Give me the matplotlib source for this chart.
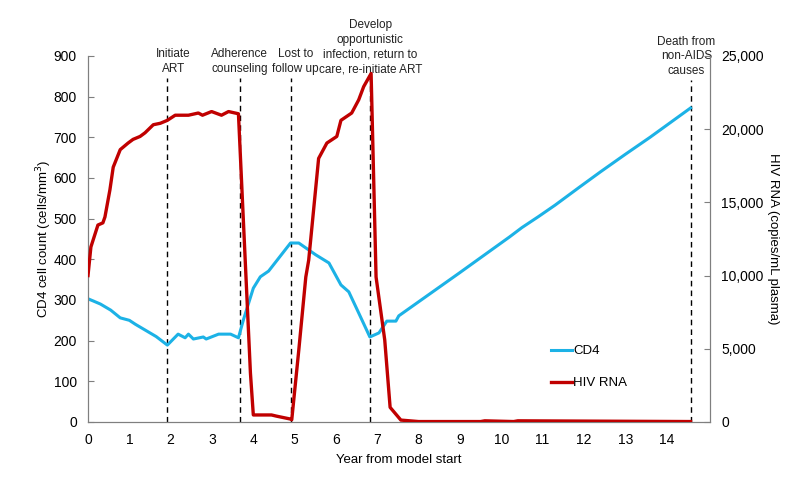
import matplotlib
matplotlib.use('Agg')
from matplotlib import pyplot as plt
from matplotlib.ticker import FuncFormatter

plt.rcParams['font.family'] = ['Liberation Sans', 'DejaVu Sans']

# CD4 cell count (left axis)
cd4_year = [0, 0.3, 0.55, 0.78, 1.0, 1.15, 1.4, 1.65, 1.92, 2.18, 2.35, 2.43, 2.55,
            2.79, 2.86, 3.16, 3.45, 3.64, 3.76, 4.0, 4.17, 4.37, 4.9, 5.1, 5.51,
            5.83, 6.12, 6.31, 6.55, 6.82, 7.04, 7.23, 7.45, 7.52, 8.98, 10.2,
            10.5, 10.9, 11.3, 11.9, 12.4, 13.0, 13.6, 14.58]
cd4_vals = [303, 290, 275, 256, 250, 240, 225, 210, 189, 216, 207, 216, 204,
            209, 204, 216, 216, 207, 251, 329, 357, 371, 440, 440, 411,
            391, 337, 320, 268, 209, 219, 248, 248, 261, 366, 455,
            478, 505, 533, 578, 615, 658, 700, 772]

# HIV RNA (right axis)
rna_year = [0, 0.07, 0.24, 0.36, 0.41, 0.53, 0.61, 0.78, 0.97, 1.09, 1.26, 1.38,
            1.58, 1.75, 1.92, 2.11, 2.43, 2.67, 2.77, 2.99, 3.23, 3.40, 3.64,
            3.93, 4.0, 4.44, 4.56, 4.90, 4.93, 5.10, 5.27, 5.34, 5.58, 5.78,
            6.02, 6.12, 6.38, 6.55, 6.67, 6.85, 6.97, 7.18, 7.31, 7.57, 8.0,
            9.5, 9.6, 10.3, 10.4, 14.58]
rna_vals = [10000, 11950, 13450, 13600, 14000, 15850, 17400, 18600, 19050, 19300,
            19500, 19750, 20300, 20400, 20600, 20950, 20950, 21100, 20950, 21200,
            20950, 21200, 21050, 3350, 480, 480, 400, 200, 150, 4900, 9900,
            11050, 18000, 19050, 19500, 20600, 21100, 22000, 22900, 23800,
            9900, 5600, 1000, 130, 30, 30, 80, 30, 80, 30]

# events (in years)
event_year = [23 / 12, 44 / 12, 59 / 12, 82 / 12, 175 / 12]
event_text = ['Initiate\nART', 'Adherence\ncounseling', 'Lost to\nfollow up',
              'Develop\nopportunistic\ninfection, return to\ncare, re-initiate ART',
              'Death from\nnon-AIDS\ncauses']
event_top = [845, 845, 845, 845, 840]
text_shift = [0.15, 0, 0.1, 0, -0.1]

blue = '#1CB2E6'
red = '#C00000'
grey = '#7F7F7F'

fig = plt.figure(figsize=(8, 4.82), dpi=100)
ax = fig.add_axes([0.11, 0.1245, 0.7775, 0.7595])
ax2 = ax.twinx()

l1, = ax.plot(cd4_year, cd4_vals, color=blue, lw=2.2, label='CD4', zorder=3)
l2, = ax2.plot(rna_year, rna_vals, color=red, lw=2.4, label='HIV RNA', zorder=3)

for x, t, top, dx in zip(event_year, event_text, event_top, text_shift):
    ax.plot([x, x], [0, top], color='black', lw=1, ls=(0, (4, 3)), zorder=2)
    ax.text(x + dx, top + 8, t, ha='center', va='bottom', fontsize=8.5,
            linespacing=1.3, color='#222222')

ax.set_xlim(0, 15.05)
ax.set_ylim(0, 900)
ax2.set_ylim(0, 25000)
ax.set_xticks(range(0, 15))
ax.set_yticks(range(0, 901, 100))
ax2.set_yticks(range(0, 25001, 5000))
ax2.yaxis.set_major_formatter(FuncFormatter(lambda v, p: '{:,.0f}'.format(v)))

for a in (ax, ax2):
    a.spines['top'].set_visible(False)
    for s in ('left', 'right', 'bottom'):
        a.spines[s].set_color(grey)
    a.tick_params(axis='y', direction='in', length=4, color=grey, labelsize=10, pad=8)
ax.tick_params(axis='x', length=0, labelsize=10, pad=8)

ax.set_xlabel('Year from model start', fontsize=9.5, labelpad=5)
ax.set_ylabel('CD4 cell count (cells/mm$^3$)', fontsize=9.5, labelpad=0)
ax2.set_ylabel('HIV RNA (copies/mL plasma)', fontsize=9.5, rotation=270, labelpad=11)

ax.legend(handles=[l1, l2], loc='center left', bbox_to_anchor=(0.725, 0.15),
          frameon=False, fontsize=9.5, handlelength=1.6, handletextpad=0.1,
          labelspacing=1.5)

plt.savefig('out.png', dpi=100)
plt.close()
